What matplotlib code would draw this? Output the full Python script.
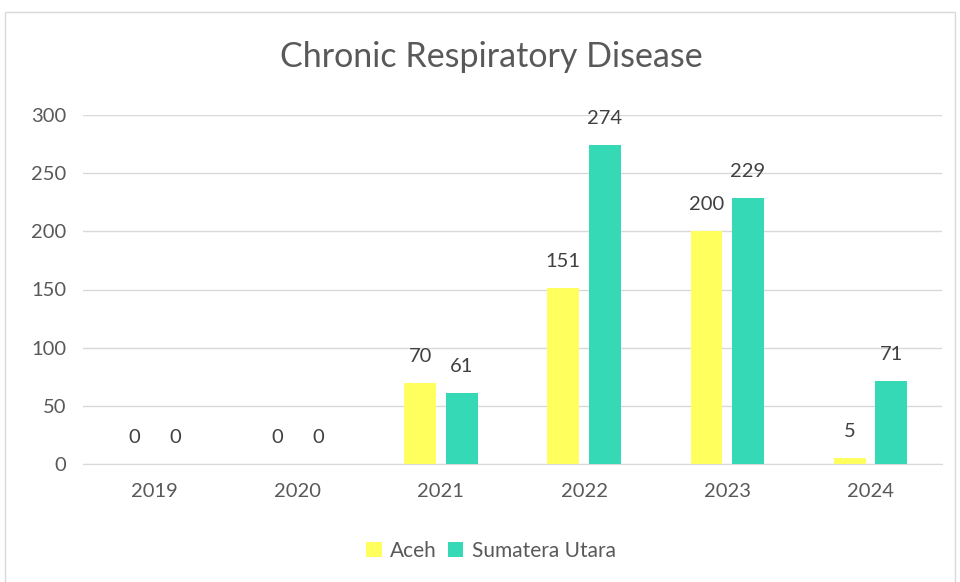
import matplotlib
matplotlib.use("Agg")
import matplotlib.pyplot as plt
import numpy as np

years = ["2019", "2020", "2021", "2022", "2023", "2024"]
aceh = [0, 0, 70, 151, 200, 5]
sumut = [0, 0, 61, 274, 229, 71]
series_names = ["Aceh", "Sumatera Utara"]
yticks = [0, 50, 100, 150, 200, 250, 300]

plt.rcParams['font.family'] = ['Lato', 'DejaVu Sans']
fig = plt.figure(figsize=(9.6, 5.82), dpi=100)
ax = fig.add_axes([83/960, 1-464/582, (942-83)/960, (464-115)/582])

x = np.arange(len(years))
w = 0.223
off = 0.145
c1, c2 = "#FFFF5E", "#35D9B5"
b1 = ax.bar(x - off, aceh, w, color=c1, label=series_names[0], zorder=3)
b2 = ax.bar(x + off, sumut, w, color=c2, label=series_names[1], zorder=3)
for bars, vals in ((b1, aceh), (b2, sumut)):
    for b, v in zip(bars, vals):
        ax.annotate(str(v), (b.get_x() + b.get_width()/2, v), xytext=(0, 13),
                    textcoords="offset points", ha="center", va="bottom",
                    fontsize=14.5, color="#404040")

ax.set_xlim(-0.5, len(years) - 0.5)
ax.set_ylim(0, 300)
ax.set_yticks(yticks)
ax.set_xticks(x)
ax.set_xticklabels(years)
ax.yaxis.grid(True, color="#D9D9D9", linewidth=1, zorder=0)
ax.set_axisbelow(True)
for s in ["top", "right", "left"]:
    ax.spines[s].set_visible(False)
ax.spines["bottom"].set_color("#D9D9D9")
ax.tick_params(axis="both", length=0, labelsize=14.5, labelcolor="#595959")
ax.tick_params(axis="x", pad=14)
ax.tick_params(axis="y", pad=12)

fig.text(491/960, 1-57/582, "Chronic Respiratory Disease", ha="center", va="center",
         fontsize=24.5, color="#595959")
fig.legend(handles=[b1, b2], loc="center", bbox_to_anchor=(491/960, 1-551/582), ncol=2,
           frameon=False, fontsize=15, labelcolor="#595959", handlelength=0.75,
           handleheight=0.75, handletextpad=0.4, columnspacing=0.5)

border = plt.Rectangle((5/960, -0.01), 950/960, 1-12/582+0.01, transform=fig.transFigure,
                       fill=False, edgecolor="#D9D9D9", linewidth=1)
fig.add_artist(border)
fig.savefig("out.png", dpi=100)
